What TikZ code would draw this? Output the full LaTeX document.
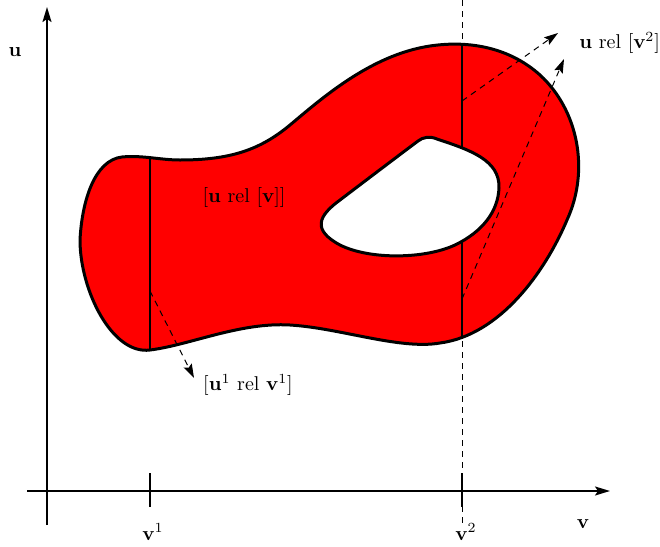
\documentclass[tikz,border=0pt]{standalone}
\usetikzlibrary{arrows.meta}
\begin{document}
\begin{tikzpicture}[x=0.5pt,y=-0.5pt,
  axis/.style={line width=0.9pt,-{Stealth[length=7.5pt,width=4.5pt,inset=1.5pt]}},
  outline/.style={line width=1.5pt,line join=round},
  vline/.style={line width=0.6pt},
  dashline/.style={line width=0.5pt,dash pattern=on 3pt off 2.5pt},
  dasharrow/.style={line width=0.5pt,dash pattern=on 3pt off 2.5pt,-{Stealth[length=7pt,width=4.5pt,inset=1.2pt]}},
  lbl/.style={inner sep=1pt,font=\fontsize{10}{12}\selectfont}]
\useasboundingbox (0,0) rectangle (660,547);
\def\outerpath{(150,350) .. controls (190,345) and (240,322) .. (290,325)
  .. controls (340,328) and (400,350) .. (440,343)
  .. controls (500,335) and (545,272) .. (567,220)
  .. controls (590,170) and (578,110) .. (540,75)
  .. controls (510,48) and (470,40) .. (430,46)
  .. controls (370,55) and (320,100) .. (290,125)
  .. controls (260,150) and (230,160) .. (180,160)
  .. controls (160,160) and (142,155) .. (122,157)
  .. controls (95,160) and (82,200) .. (80,240)
  .. controls (80,290) and (112,355) .. (150,350) -- cycle}
\def\holepath{(418,141) .. controls (423,137) and (430,136) .. (437,139)
  .. controls (470,150) and (500,160) .. (499,188)
  .. controls (498,212) and (482,232) .. (455,245)
  .. controls (425,259) and (370,260) .. (340,245)
  .. controls (312,230) and (318,216) .. (340,200)
  .. controls (365,181) and (398,156) .. (418,141) -- cycle}
% coordinates
\coordinate (vtop) at (462,0);
\coordinate (vbot) at (462,525);
\coordinate (ax0) at (47,525);
\coordinate (ax1) at (47,7);
\coordinate (ay0) at (27,491);
\coordinate (ay1) at (610,491);
\coordinate (t1a) at (150,473);
\coordinate (t1b) at (150,507);
\coordinate (t2a) at (462,473);
\coordinate (t2b) at (462,507);
% dashed v2 line
\draw[dashline] (vtop) -- (vbot);
% region
\fill[red] \outerpath;
\begin{scope}
  \clip \outerpath;
  \draw[vline] (150,0) -- (150,547);
  \draw[vline] (462,0) -- (462,547);
\end{scope}
\filldraw[fill=white,outline] \holepath;
\draw[outline] \outerpath;
% axes
\draw[axis] (ax0) -- (ax1);
\draw[axis] (ay0) -- (ay1);
\draw[vline,line width=0.8pt] (t1a) -- (t1b);
\draw[vline,line width=0.8pt] (t2a) -- (t2b);
% labels
\node[lbl] (lu) at (15,52) {\textbf{u}};
\node[lbl] (lv) at (583,524) {\textbf{v}};
\node[lbl] (lv1) at (153,532) {\textbf{v}$^1$};
\node[lbl] (lv2) at (466,532) {\textbf{v}$^2$};
\node[lbl] (luv) at (244,197) {[\textbf{u} rel [\textbf{v}]]};
\node[lbl] (lu1) at (248,385) {[\textbf{u}$^1$ rel \textbf{v}$^1$]};
\node[lbl,anchor=west] (lu2) at (577,43) {\textbf{u} rel [\textbf{v}$^2$]};
% dashed arrows
\coordinate (s1) at (462,101);
\coordinate (e1) at (558,33);
\coordinate (s2) at (462,299);
\coordinate (e2) at (564,59);
\coordinate (s3) at (150,291);
\coordinate (e3) at (194,378);
\draw[dasharrow] (s1) -- (e1);
\draw[dasharrow] (s2) -- (e2);
\draw[dasharrow] (s3) -- (e3);
\end{tikzpicture}
\end{document}
